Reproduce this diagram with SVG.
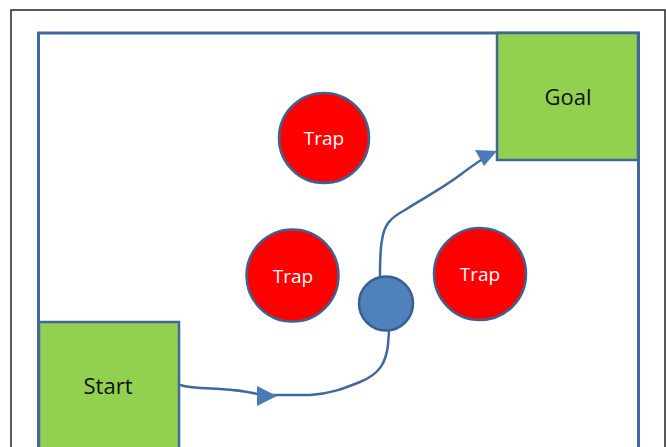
<svg xmlns="http://www.w3.org/2000/svg" width="666" height="447" viewBox="0 0 666 447">
<style>
.frame{fill:none;stroke:#222;stroke-width:1.5}
.field{fill:#fff;stroke:#41689a;stroke-width:3}
.box{fill:#92d050;stroke:#41689a;stroke-width:2.5}
.trap{fill:#ff0000;stroke:#3e6290;stroke-width:2.5}
.ball{fill:#4f81bd;stroke:#3a5f8e;stroke-width:2.5}
.lbl{font-family:"Open Sans","Liberation Sans",sans-serif;text-anchor:middle}
.tl{fill:#fff;font-size:19px}
.bl{fill:#111;font-size:22px}
.path{fill:none;stroke:#41689a;stroke-width:2.5;stroke-linejoin:round;stroke-linecap:round}
.head{fill:#4a7ab8}
</style>
<rect class="frame" x="11" y="10" width="654" height="450"/>
<rect class="field" x="38.5" y="33" width="600" height="430"/>
<g id="goal"><rect class="box" x="497" y="33" width="141" height="127"/><text class="lbl bl" x="568" y="105">Goal</text></g>
<g id="start"><rect class="box" x="39" y="322" width="140" height="140"/><text class="lbl bl" x="108" y="394">Start</text></g>
<g id="trap1"><circle class="trap" cx="324" cy="138" r="45"/><text class="lbl tl" x="324" y="145">Trap</text></g>
<g id="trap2"><circle class="trap" cx="292.5" cy="275.5" r="46"/><text class="lbl tl" x="293" y="283">Trap</text></g>
<g id="trap3"><circle class="trap" cx="480" cy="274" r="46"/><text class="lbl tl" x="480" y="281">Trap</text></g>
<g id="ball"><circle class="ball" cx="386" cy="303.5" r="27"/></g>
<g id="connectors">
<path class="path" d="M180 385 C190 388 200 388 220 389 C240 390 250 392 262 395 L310 395 C330 394 345 388 360 382 C380 374 386 362 388 345 L389 331"/>
<polygon class="head" points="277,396 257,386 257,406"/>
<path class="path" d="M380 276 C380 262 380 250 382 240 C384 225 390 218 405 210 C420 200 440 190 460 175 C472 166 480 160 488 156"/>
<polygon class="head" points="497,151 475,150 484,166"/>
</g>
</svg>
